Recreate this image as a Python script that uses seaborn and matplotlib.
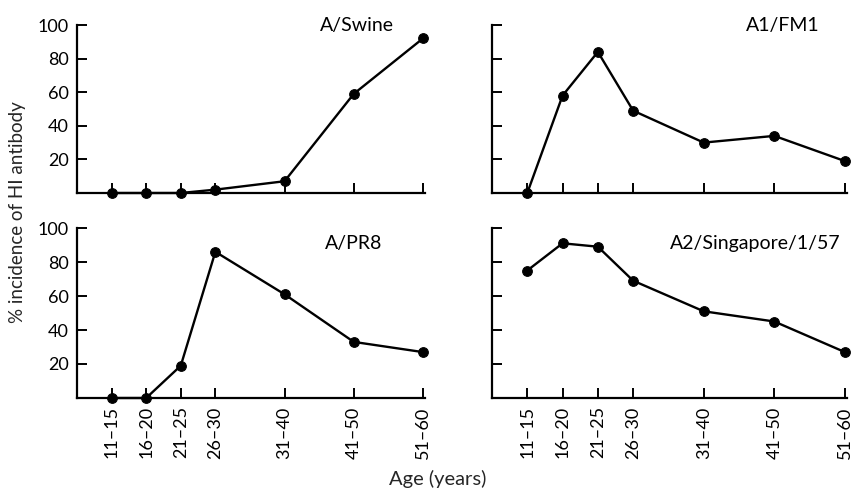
import matplotlib
matplotlib.use("Agg")
import matplotlib.pyplot as plt
import seaborn as sns
import pandas as pd

age_groups = ["11–15", "16–20", "21–25", "26–30", "31–40", "41–50", "51–60"]
age_upper = [15, 20, 25, 30, 40, 50, 60]

swine = [0, 0, 0, 2, 7, 59, 92]
fm1 = [0, 58, 84, 49, 30, 34, 19]
pr8 = [0, 0, 19, 86, 61, 33, 27]
singapore = [75, 91, 89, 69, 51, 45, 27]

titles = ["A/Swine", "A1/FM1", "A/PR8", "A2/Singapore/1/57"]
series = [swine, fm1, pr8, singapore]
y_ticks = [20, 40, 60, 80, 100]

sns.set_style("ticks")
plt.rcParams["font.family"] = ["Lato", "DejaVu Sans"]

fig = plt.figure(figsize=(8.53, 4.90), dpi=100)
W, H = 853, 490

def box(x0, x1, ytop, ybot):
    return [x0 / W, 1 - ybot / H, (x1 - x0) / W, (ybot - ytop) / H]

rects = [box(77, 425, 25, 193), box(492, 847, 25, 193),
         box(77, 425, 228, 398), box(492, 847, 228, 398)]
title_pos = [(357, 25), (783, 25), (354, 243), (755, 243)]

for i, (rect, title, vals) in enumerate(zip(rects, titles, series)):
    ax = fig.add_axes(rect)
    df = pd.DataFrame({"age": age_upper, "pct": vals})
    sns.lineplot(data=df, x="age", y="pct", ax=ax, color="black",
                 linewidth=1.7, marker="o", markersize=7,
                 markeredgecolor="black", clip_on=False)
    ax.set_xlim(10, 60.3)
    ax.set_ylim(0, 100)
    ax.set_xticks(age_upper)
    ax.set_yticks(y_ticks)
    sns.despine(ax=ax)
    for s in ["left", "bottom"]:
        ax.spines[s].set_linewidth(1.6)
        ax.spines[s].set_color("black")
    ax.tick_params(direction="in", length=7, width=1.4, colors="black",
                   labelsize=13)
    ax.tick_params(axis="y", pad=6)
    ax.tick_params(axis="x", pad=6)
    if i < 2:
        ax.set_xticklabels([])
    else:
        ax.set_xticklabels(age_groups, rotation=90, fontsize=13)
    if i % 2 == 1:
        ax.set_yticklabels([])
    ax.set_xlabel("")
    ax.set_ylabel("")
    tx, ty = title_pos[i]
    fig.text(tx / W, 1 - ty / H, title, ha="center", va="center",
             fontsize=14, color="black")

fig.text(18 / W, 1 - 212 / H, "% incidence of HI antibody", rotation=90,
         ha="center", va="center", fontsize=13.5)
fig.text(438 / W, 1 - 479 / H, "Age (years)", ha="center", va="center",
         fontsize=14.5)

fig.savefig("out.png", dpi=100)
